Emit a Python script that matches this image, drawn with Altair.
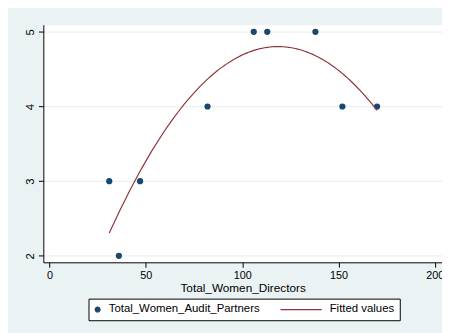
import altair as alt
import pandas as pd

# Data
directors = [31, 36, 47, 82, 106, 113, 138, 152, 170]
partners = [3, 2, 3, 4, 5, 5, 5, 4, 4]
series_names = ["Total_Women_Audit_Partners", "Fitted values"]
series_colors = ["#1A476F", "#90353B"]
series_shapes = ["circle", "M-15.5,0H1.3"]
x_ticks = [0, 50, 100, 150, 200]
y_ticks = [2, 3, 4, 5]

df = pd.DataFrame({"x": directors, "y": partners, "series": series_names[0]})

FONT = "Liberation Sans"

xscale = alt.Scale(domain=[-3.2, 203.7], nice=False, zero=False)
yscale = alt.Scale(domain=[1.913, 5.096], nice=False, zero=False)

xaxis = alt.Axis(values=x_ticks, title="Total_Women_Directors", grid=False,
                 labelPadding=3, titlePadding=1.5, titleFontSize=12,
                 labelFontSize=11, format="d")
yaxis = alt.Axis(values=y_ticks, title=None, grid=True, labelAngle=270,
                 labelAlign="center", labelBaseline="bottom", labelPadding=3,
                 gridColor="#E4ECEE", gridWidth=1, labelFontSize=11.5,
                 format="d")

legend = alt.Legend(
    orient="none", legendX=46, legendY=279, direction="horizontal",
    strokeColor="black", fillColor="white", padding=5, cornerRadius=0,
    labelFont=FONT, labelFontSize=11.6, labelColor="black", labelLimit=0,
    symbolSize=25, symbolStrokeWidth=1.2, symbolOffset=-1.5, labelOffset=5.5,
    columnPadding=18, symbolOpacity=1,
)

cscale = alt.Scale(domain=series_names, range=series_colors)
color = alt.Color("series:N", title=None, scale=cscale, legend=legend)
stroke = alt.Stroke("series:N", title=None, scale=cscale, legend=legend)
shape = alt.Shape("series:N", title=None,
                  scale=alt.Scale(domain=series_names, range=series_shapes),
                  legend=legend)

base = alt.Chart(df)
points = base.mark_point(filled=True, size=40, opacity=1, strokeWidth=0).encode(
    x=alt.X("x:Q", scale=xscale, axis=xaxis),
    y=alt.Y("y:Q", scale=yscale, axis=yaxis),
    color=color,
    stroke=stroke,
    shape=shape,
)
fit = (
    base.transform_regression("x", "y", method="poly", order=2)
    .transform_calculate(series="'Fitted values'")
    .mark_line(strokeWidth=1.2)
    .encode(x="x:Q", y="y:Q", color=color)
)

chart = (
    alt.layer(points, fit)
    .properties(width=406, height=242, autosize="none",
                padding={"left": 36, "top": 14, "right": 0, "bottom": 69},
                background="#EAF2F3")
    .configure_view(fill="white", stroke="transparent")
    .configure_axis(domainColor="black", domainWidth=1, tickColor="black",
                    tickSize=5, tickWidth=1, labelColor="black", labelFont=FONT,
                    titleFont=FONT, titleColor="black", titleFontWeight="normal")
)

chart.save("out.html", embed_options={"renderer": "svg", "actions": False})
